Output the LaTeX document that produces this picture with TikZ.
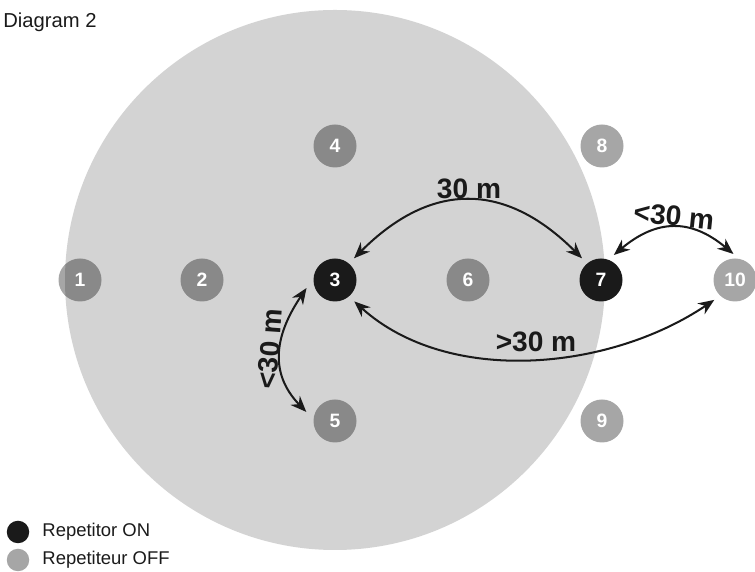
\documentclass[tikz,border=0pt]{standalone}
\usepackage{fontspec}
\setmainfont{Liberation Sans}
\definecolor{RepOn}{HTML}{1A1A1A}
\definecolor{RepOff}{HTML}{A6A6A6}
\definecolor{Coverage}{HTML}{D3D3D3}
\usepackage{tikz}
\usetikzlibrary{positioning, arrows.meta}

\begin{document}
\begin{tikzpicture}[
  dev/.style={circle, minimum size=0.86cm, inner sep=0pt, text=white, font=\fontsize{11}{13}\selectfont\bfseries},
  on/.style={dev, fill=RepOn},
  off/.style={dev, fill=black, fill opacity=0.35, text opacity=1},
  link/.style={line width=1.15pt, RepOn, {Stealth[length=0.32cm, width=0.26cm]}-{Stealth[length=0.32cm, width=0.26cm]}, shorten <=0.14cm, shorten >=0.14cm},
  dist/.style={text=RepOn, font=\fontsize{16}{19}\selectfont\bfseries, inner sep=0pt},
  legdot/.style={circle, minimum size=0.45cm, inner sep=0pt},
  legtext/.style={font=\fontsize{10.5}{12}\selectfont, text=RepOn, inner sep=0pt, anchor=west},
]
  \useasboundingbox (0,0) rectangle (15.1,11.44);

  % Coverage of repetitor 3
  \fill[Coverage] (6.7,5.84) circle (5.4);

  \node[font=\fontsize{11.5}{13}\selectfont, text=RepOn, anchor=base west, inner sep=0pt] (title) at (0.06,10.88) {Diagram 2};

  % Middle row
  \node[off] (n1) at (1.60,5.84) {1};
  \node[off] (n2) at (4.04,5.84) {2};
  \node[on]  (n3) at (6.70,5.84) {3};
  \node[off] (n6) at (9.36,5.84) {6};
  \node[on]  (n7) at (12.02,5.84) {7};
  \node[off] (n10) at (14.70,5.84) {10};

  % Upper and lower row
  \node[off] (n4) at (6.70,8.52) {4};
  \node[off] (n8) at (12.04,8.52) {8};
  \node[off] (n5) at (6.70,3.02) {5};
  \node[off] (n9) at (12.04,3.02) {9};

  % Distances
  \draw[link] (n3.50) to[out=45, in=135, looseness=1.25] (n7.130);
  \node[dist] (d37) at (9.38,7.66) {30 m};

  \draw[link] (n7.70) to[out=40, in=140, looseness=1.23] (n10.80);
  \node[dist, rotate=-6] (d710) at (13.48,7.12) {<30 m};

  \draw[link] (n3.-50) to[out=-42, in=-146, looseness=0.92] (n10.-133);
  \node[dist] (d310) at (10.72,4.60) {>30 m};

  \draw[link, shorten <=0.24cm, shorten >=0.2cm] (n3.175) to[out=236, in=134, looseness=1.2] (n5.175);
  \node[dist, rotate=86] (d35) at (5.40,4.46) {<30 m};

  % Legend
  \node[legdot, fill=RepOn] (lon) at (0.36,0.80) {};
  \node[legtext, right=0.25cm of lon] (lontext) {Repetitor ON};
  \node[legdot, fill=RepOff] (loff) at (0.36,0.24) {};
  \node[legtext, right=0.25cm of loff] (lofftext) {Repetiteur OFF};
\end{tikzpicture}
\end{document}
